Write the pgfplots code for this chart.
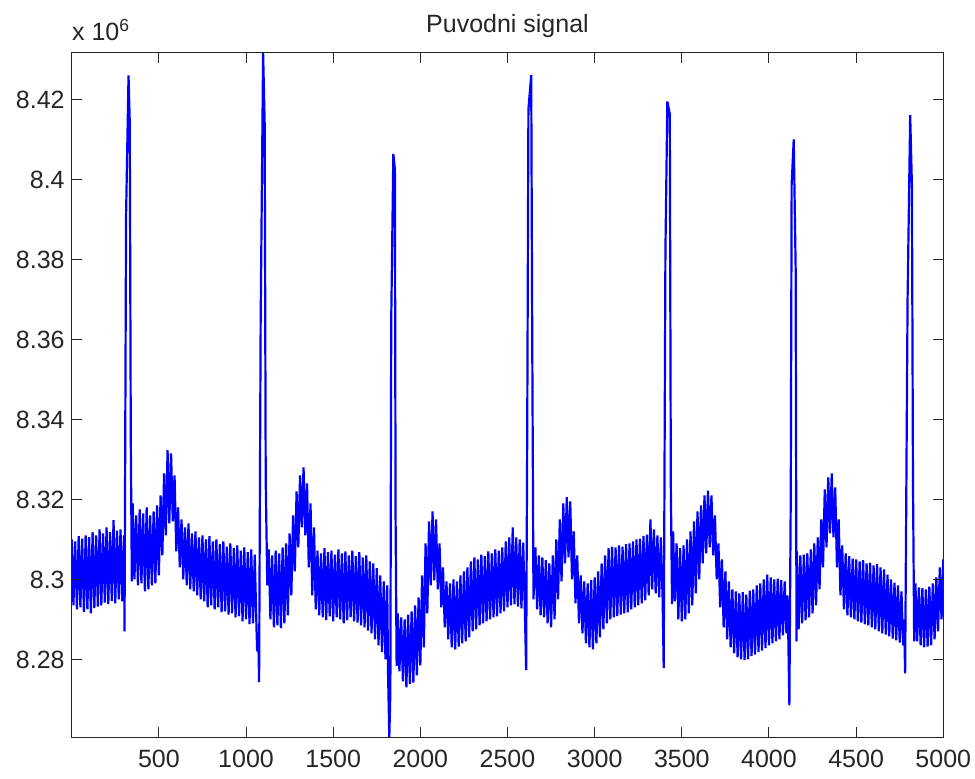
\documentclass[border=0pt]{standalone}
\usepackage{fontspec}
\setmainfont{Liberation Sans}
\usepackage{pgfplots}
\pgfplotsset{compat=1.18}
\definecolor{axgray}{RGB}{38,38,38}
\begin{document}
\begin{tikzpicture}
\begin{axis}[
  name=ax,
  scale only axis,
  width=435.8pt, height=342.15pt,
  xmin=0, xmax=5000,
  ymin=8.2606, ymax=8.4317,
  axis on top,
  tick pos=both,
  tick align=inside,
  major tick length=5pt,
  axis line style={axgray, line width=0.5pt},
  every tick/.style={axgray, line width=0.5pt},
  xtick={500,1000,1500,2000,2500,3000,3500,4000,4500,5000},
  xticklabels={500,1000,1500,2000,2500,3000,3500,4000,4500,5000},
  ytick={8.28,8.30,8.32,8.34,8.36,8.38,8.40,8.42},
  yticklabels={8.28,8.3,8.32,8.34,8.36,8.38,8.4,8.42},
  tick label style={font=\fontsize{12.5}{15}\selectfont, text=axgray},
  xticklabel style={yshift=-3pt},
  title={Puvodni signal},
  every axis title shift=0pt,
  title style={font=\fontsize{12.5}{15}\selectfont, text=axgray, at={(0.5,1)}, anchor=base, yshift=10.3pt},
]
\addplot[color={rgb,255:red,0;green,0;blue,255}, line width=1.1pt, line join=bevel, mark=none] coordinates {
(0,8.3100)(10,8.2935)(20,8.3095)(30,8.2925)(40,8.3108)(50,8.2930)(60,8.3102)(70,8.2918)(80,8.3110)(90,8.2925)
(100,8.3106)(110,8.2915)(120,8.3118)(130,8.2928)(140,8.3110)(150,8.2932)(160,8.3125)(170,8.2935)(180,8.3115)(190,8.2942)
(200,8.3130)(210,8.2938)(220,8.3118)(230,8.2946)(240,8.3148)(250,8.2940)(260,8.3122)(270,8.2950)(280,8.3125)(290,8.2945)
(300,8.3110)(303,8.2870)(312,8.3912)(326,8.4260)(333,8.4145)(339,8.3350)(345,8.2995)
(350,8.3190)(360,8.3000)(370,8.3160)(380,8.2985)(390,8.3175)(400,8.2990)(410,8.3165)(420,8.2970)(430,8.3180)(440,8.2975)
(450,8.3160)(460,8.2985)(470,8.3170)(480,8.2990)(490,8.3185)(500,8.3010)(510,8.3210)(520,8.3060)(530,8.3265)(540,8.3110)
(550,8.3323)(560,8.3140)(570,8.3315)(580,8.3145)(590,8.3260)(600,8.3070)(610,8.3180)(620,8.3030)
(630,8.3150)(640,8.3000)(650,8.3130)(660,8.2985)(670,8.3140)(680,8.2975)(690,8.3115)(700,8.2970)(710,8.3120)(720,8.2960)
(730,8.3105)(740,8.2950)(750,8.3110)(760,8.2945)(770,8.3100)(780,8.2930)(790,8.3108)(800,8.2935)(810,8.3095)(820,8.2925)
(830,8.3100)(840,8.2930)(850,8.3088)(860,8.2918)(870,8.3095)(880,8.2920)(890,8.3082)(900,8.2912)(910,8.3090)(920,8.2915)
(930,8.3078)(940,8.2905)(950,8.3085)(960,8.2908)(970,8.3072)(980,8.2895)(990,8.3080)(1000,8.2900)(1010,8.3068)(1020,8.2888)
(1030,8.3075)(1040,8.2890)(1050,8.3062)(1060,8.2880)
(1064,8.2820)(1070,8.2870)(1075,8.2743)(1084,8.3648)(1098,8.4317)(1107,8.4140)(1113,8.3248)(1122,8.2985)
(1130,8.3075)(1140,8.2900)(1150,8.3060)(1160,8.2880)(1170,8.3072)(1180,8.2885)(1190,8.3065)(1200,8.2878)(1210,8.3080)(1220,8.2890)
(1230,8.3090)(1240,8.2910)(1250,8.3115)(1260,8.2960)(1270,8.3160)(1280,8.3020)(1290,8.3220)(1300,8.3080)(1310,8.3260)(1320,8.3130)
(1330,8.3280)(1340,8.3110)(1350,8.3240)(1360,8.3030)(1370,8.3190)(1380,8.2960)(1390,8.3130)(1400,8.2925)
(1410,8.3072)(1420,8.2910)(1430,8.3065)(1440,8.2905)(1450,8.3078)(1460,8.2898)(1470,8.3068)(1480,8.2908)(1490,8.3072)(1500,8.2895)
(1510,8.3062)(1520,8.2905)(1530,8.3075)(1540,8.2900)(1550,8.3065)(1560,8.2890)(1570,8.3070)(1580,8.2898)(1590,8.3060)(1600,8.2905)
(1610,8.3072)(1620,8.2895)(1630,8.3058)(1640,8.2892)(1650,8.3068)(1660,8.2885)(1670,8.3055)(1680,8.2880)(1690,8.3060)(1700,8.2872)
(1710,8.3045)(1720,8.2865)(1730,8.3040)(1740,8.2850)(1750,8.3028)(1760,8.2835)(1770,8.3010)(1780,8.2818)(1790,8.2995)(1800,8.2800)
(1810,8.2985)(1815,8.2760)(1822,8.2606)(1828,8.2719)(1833,8.3648)(1845,8.4064)(1854,8.4026)(1858,8.3154)(1864,8.2784)
(1870,8.2915)(1880,8.2770)(1890,8.2905)(1900,8.2745)(1910,8.2900)(1920,8.2730)(1930,8.2912)(1940,8.2738)(1950,8.2920)(1960,8.2742)
(1970,8.2935)(1980,8.2760)(1990,8.2955)(2000,8.2785)(2010,8.3010)(2020,8.2830)(2030,8.3090)(2040,8.2915)(2050,8.3145)(2060,8.2985)
(2070,8.3170)(2080,8.2998)(2090,8.3150)(2100,8.2975)(2110,8.3090)(2120,8.2930)(2130,8.3030)(2140,8.2880)(2150,8.2995)(2160,8.2850)
(2170,8.2990)(2180,8.2830)(2190,8.3000)(2200,8.2825)(2210,8.2995)(2220,8.2832)(2230,8.3010)(2240,8.2840)(2250,8.3020)(2260,8.2845)
(2270,8.3030)(2280,8.2855)(2290,8.3045)(2300,8.2870)(2310,8.3055)(2320,8.2875)(2330,8.3050)(2340,8.2885)(2350,8.3062)(2360,8.2890)
(2370,8.3058)(2380,8.2895)(2390,8.3070)(2400,8.2900)(2410,8.3065)(2420,8.2905)(2430,8.3075)(2440,8.2908)(2450,8.3072)(2460,8.2915)
(2470,8.3080)(2480,8.2920)(2490,8.3095)(2500,8.2930)(2510,8.3105)(2520,8.2935)(2530,8.3130)(2540,8.2938)(2550,8.3105)(2560,8.2932)
(2570,8.3100)(2580,8.2928)(2590,8.3092)(2600,8.2915)
(2607,8.2773)(2613,8.3353)(2620,8.4175)(2636,8.4261)(2642,8.3590)(2649,8.2950)
(2660,8.3080)(2670,8.2925)(2680,8.3060)(2690,8.2910)(2700,8.3055)(2710,8.2905)(2720,8.3048)(2730,8.2890)(2740,8.3040)(2750,8.2880)
(2760,8.3060)(2770,8.2900)(2780,8.3100)(2790,8.2950)(2800,8.3150)(2810,8.2995)(2820,8.3190)(2830,8.3040)(2840,8.3206)(2850,8.3055)
(2860,8.3195)(2870,8.3000)(2880,8.3120)(2890,8.2940)(2900,8.3060)(2910,8.2890)(2920,8.3010)(2930,8.2865)(2940,8.2995)(2950,8.2840)
(2960,8.2990)(2970,8.2830)(2980,8.2998)(2990,8.2825)(3000,8.3005)(3010,8.2840)(3020,8.3020)(3030,8.2855)(3040,8.3040)(3050,8.2875)
(3060,8.3060)(3070,8.2890)(3080,8.3078)(3090,8.2900)(3100,8.3082)(3110,8.2905)(3120,8.3080)(3130,8.2908)(3140,8.3085)(3150,8.2912)
(3160,8.3082)(3170,8.2915)(3180,8.3088)(3190,8.2918)(3200,8.3090)(3210,8.2925)(3220,8.3095)(3230,8.2930)(3240,8.3100)(3250,8.2935)
(3260,8.3102)(3270,8.2940)(3280,8.3108)(3290,8.2948)(3300,8.3112)(3310,8.2960)(3320,8.3150)(3330,8.2975)(3340,8.3125)(3350,8.2965)
(3360,8.3110)(3370,8.2955)(3380,8.3105)(3390,8.2950)
(3396,8.2778)(3406,8.3822)(3417,8.4195)(3431,8.4164)(3437,8.3231)(3444,8.2938)
(3450,8.3120)(3460,8.2945)(3470,8.3090)(3480,8.2900)(3490,8.3078)(3500,8.2895)(3510,8.3085)(3520,8.2900)(3530,8.3100)(3540,8.2915)
(3550,8.3120)(3560,8.2935)(3570,8.3145)(3580,8.2965)(3590,8.3170)(3600,8.3000)(3610,8.3185)(3620,8.3040)(3630,8.3210)(3640,8.3065)
(3650,8.3222)(3660,8.3080)(3670,8.3210)(3680,8.3060)(3690,8.3160)(3700,8.3000)(3710,8.3090)(3720,8.2930)(3730,8.3050)(3740,8.2880)
(3750,8.3020)(3760,8.2850)(3770,8.2995)(3780,8.2830)(3790,8.2975)(3800,8.2815)(3810,8.2970)(3820,8.2805)(3830,8.2965)(3840,8.2800)
(3850,8.2968)(3860,8.2798)(3870,8.2962)(3880,8.2800)(3890,8.2972)(3900,8.2808)(3910,8.2975)(3920,8.2812)(3930,8.2985)(3940,8.2818)
(3950,8.2990)(3960,8.2822)(3970,8.3000)(3980,8.2828)(3990,8.3012)(4000,8.2835)(4010,8.3005)(4020,8.2840)(4030,8.3000)(4040,8.2845)
(4050,8.3002)(4060,8.2850)(4070,8.2998)(4080,8.2860)(4090,8.2995)(4100,8.2865)
(4105,8.2960)(4110,8.2880)(4117,8.2685)(4125,8.3215)(4130,8.3987)(4142,8.4100)(4153,8.3778)(4158,8.2845)
(4160,8.3070)(4170,8.2875)(4180,8.3060)(4190,8.2890)(4200,8.3062)(4210,8.2898)(4220,8.3065)(4230,8.2905)(4240,8.3075)(4250,8.2915)
(4260,8.3090)(4270,8.2935)(4280,8.3105)(4290,8.2975)(4300,8.3150)(4310,8.3030)(4320,8.3225)(4330,8.3080)(4340,8.3255)(4350,8.3115)
(4360,8.3265)(4370,8.3105)(4380,8.3230)(4390,8.3030)(4400,8.3150)(4410,8.2960)(4420,8.3085)(4430,8.2925)(4440,8.3065)(4450,8.2910)
(4460,8.3058)(4470,8.2905)(4480,8.3052)(4490,8.2900)(4500,8.3050)(4510,8.2895)(4520,8.3045)(4530,8.2892)(4540,8.3048)(4550,8.2888)
(4560,8.3040)(4570,8.2885)(4580,8.3042)(4590,8.2880)(4600,8.3035)(4610,8.2875)(4620,8.3038)(4630,8.2870)(4640,8.3030)(4650,8.2865)
(4660,8.3025)(4670,8.2862)(4680,8.3012)(4690,8.2858)(4700,8.3000)(4710,8.2852)(4720,8.2992)(4730,8.2848)(4740,8.2985)(4750,8.2842)
(4760,8.2970)(4770,8.2835)
(4775,8.2900)(4781,8.2765)(4795,8.3698)(4810,8.4161)(4820,8.3984)(4826,8.3248)(4833,8.2845)
(4840,8.2990)(4850,8.2845)(4860,8.2980)(4870,8.2835)(4880,8.2978)(4890,8.2830)(4900,8.2975)(4910,8.2832)(4920,8.2982)(4930,8.2835)
(4940,8.2990)(4950,8.2850)(4960,8.3005)(4970,8.2870)(4980,8.3030)(4990,8.2900)(5000,8.3050)
};
\end{axis}
\node[anchor=base west, font=\fontsize{12.5}{15}\selectfont, text=axgray, inner sep=0pt] at ([yshift=6pt]ax.north west) {x 10\textsuperscript{6}};
\pgfresetboundingbox
\path (ax.south west) ++(-35.85pt,-20.5pt) coordinate (bl);
\path (ax.north east) ++(15.85pt,26.35pt) coordinate (tr);
\useasboundingbox (bl) rectangle (tr);
\end{tikzpicture}
\end{document}
